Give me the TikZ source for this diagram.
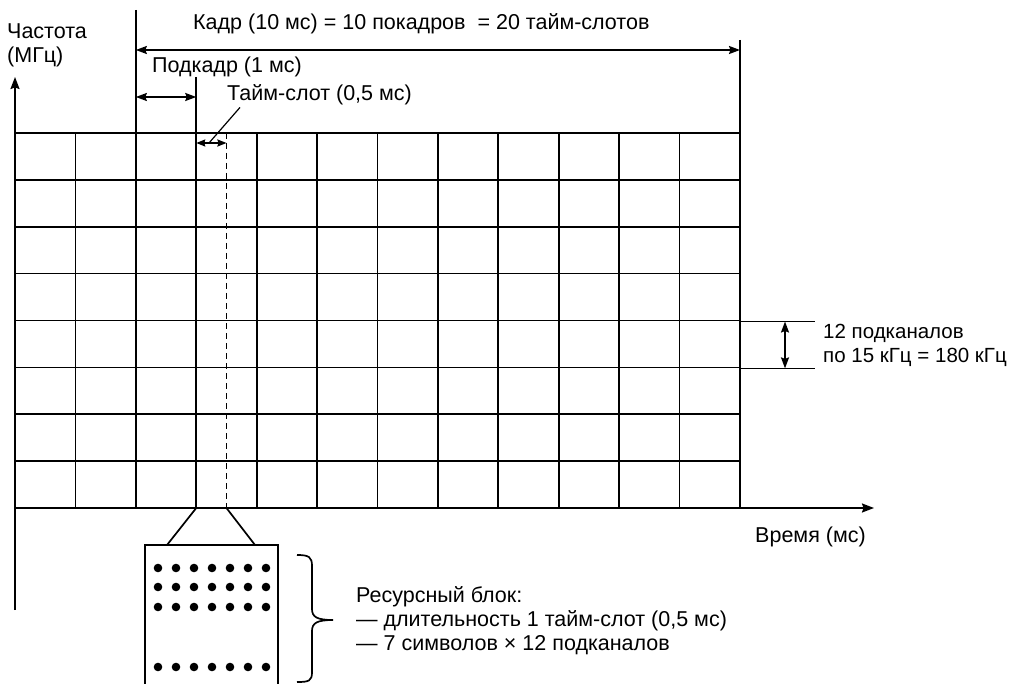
\documentclass[tikz,border=0pt]{standalone}
\usepackage{fontspec}
\setmainfont{Liberation Sans}
\usetikzlibrary{arrows.meta}
\begin{document}
\begin{tikzpicture}[x=1pt,y=-1pt,
  ln/.style={line width=1.7pt},
  tip/.style={-{Stealth[length=12pt,width=9pt,inset=1.5pt]}},
  dtip/.style={{Stealth[length=11pt,width=8pt,inset=1.5pt]}-{Stealth[length=11pt,width=8pt,inset=1.5pt]}},
  stip/.style={{Stealth[length=9pt,width=7pt,inset=1pt]}-{Stealth[length=9pt,width=7pt,inset=1pt]}},
  lbl/.style={font=\fontsize{21.5}{24}\selectfont, inner sep=0pt, anchor=west, align=left}]
\useasboundingbox (0,0) rectangle (1016,684);
% grid
\foreach \i in {1,...,11} \draw[ln] ({15+\i*60.4167},133) -- ({15+\i*60.4167},508);
\foreach \j in {0,...,7} \draw[ln] (15,{133+\j*46.875}) -- (740,{133+\j*46.875});
% coordinates
\coordinate (ybot) at (15,610);
\coordinate (ytop) at (15,77);
\coordinate (O) at (15,508);
\coordinate (xend) at (874,508);
\coordinate (fL) at (135.83,10);
\coordinate (fR) at (740,40);
\coordinate (fRb) at (740,508);
\coordinate (sR) at (196.25,77);
\coordinate (sRb) at (196.25,508);
\coordinate (tR) at (226.46,133);
\coordinate (tRb) at (226.46,508);
% axes
\draw[ln,tip] (ybot) -- (ytop);
\draw[ln,tip] (O) -- (xend);
% frame extension lines
\draw[ln] (fL) -- (135.83,133);
\draw[ln] (fR) -- (fRb);
\draw[ln] (sR) -- (sRb);
\draw[ln,dash pattern=on 6pt off 4pt] (tR) -- (tRb);
% dimension arrows
\draw[ln,dtip] (135.83,50) -- (740,50);
\draw[ln,dtip] (135.83,97) -- (196.25,97);
\draw[ln,stip] (196.25,143) -- (226.46,143);
% labels
\node[lbl] (freq) at (7,45) {Частота\\(МГц)};
\node[lbl] (frame) at (193,24) {Кадр (10 мс) = 10 покадров\ \ = 20 тайм-слотов};
\node[lbl] (subframe) at (152,67) {Подкадр (1 мс)};
\node[lbl] (slot) at (227,95) {Тайм-слот (0,5 мс)};
\coordinate (slotarrow) at (209,143);
\draw[line width=1.2pt] ([xshift=13pt,yshift=-2pt]slot.south west) -- (slotarrow);
\node[lbl] (time) at (755,537) {Время (мс)};
% subchannel annotation
\coordinate (aT) at (785,321.5);
\coordinate (aB) at (785,368.4);
\draw[ln] (740,321.5) -- (815,321.5);
\draw[ln] (740,368.4) -- (815,368.4);
\draw[ln,dtip] (aT) -- (aB);
\node[lbl, font=\fontsize{20.5}{24}\selectfont] (sub) at (823,345) {12 подканалов\\по 15 кГц = 180 кГц};
% resource block
\coordinate (bTL) at (145,545);
\coordinate (bTR) at (278,545);
\draw[ln] (145,684) -- (bTL) -- (bTR) -- (278,684);
\draw[ln] (sRb) -- (167,545);
\draw[ln] (tRb) -- (255,545);
\foreach \x in {158,176,194,212,230,248,266}
  \foreach \y in {568,587,607,667}
    \fill (\x,\y) circle[radius=4.3pt];
% brace
\draw[ln] (297,555) .. controls (309,555) and (312,557) .. (312,566) -- (312,609)
  .. controls (312,617) and (317,620) .. (333,620)
  .. controls (317,620) and (312,623) .. (312,631) -- (312,672)
  .. controls (312,681) and (309,682) .. (297,682);
\node[lbl] (res) at (356,621) {Ресурсный блок:\\— длительность 1 тайм-слот (0,5 мс)\\— 7 символов × 12 подканалов};
\end{tikzpicture}
\end{document}
